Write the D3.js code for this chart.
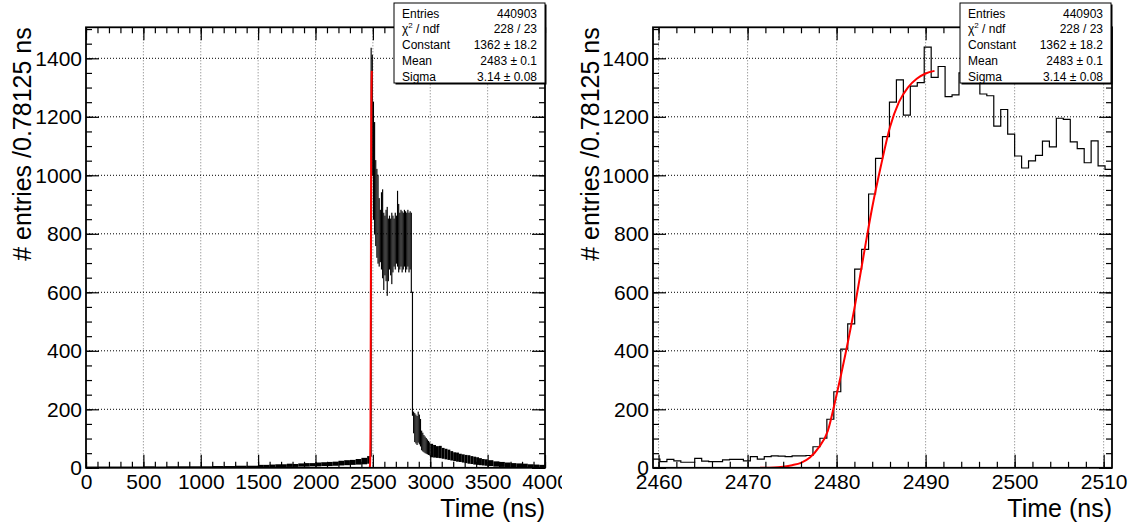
<!DOCTYPE html>
<html><head><meta charset="utf-8">
<script src="https://cdn.jsdelivr.net/npm/d3@7"></script>
<style>
body{margin:0;background:#fff}
svg{display:block}
text{font-family:"Liberation Sans",Arial,Helvetica,sans-serif}
</style>
</head><body>
<svg id="c" width="1136" height="529"></svg>
<script>
// ---------------- data ----------------
const binWidth = 0.78125;
const zoomStart = 2459.375;              // first bin low edge of the zoomed histogram
const zoomCounts = [
  30, 21, 29, 24, 19, 19, 32, 23, 21, 21, 27, 29, 29, 24, 38, 30, 38, 41, 40, 38, 41, 41, 42,
  72, 101, 166, 260, 406, 492, 679, 747, 936, 1058, 1132, 1250, 1326, 1206, 1305, 1317, 1438,
  1335, 1372, 1269, 1275, 1350, 1330, 1320, 1278, 1272, 1168, 1225, 1141, 1066, 1025, 1049,
  1068, 1117, 1097, 1195, 1191, 1114, 1091, 1043, 1118, 1032, 1020
];
// fit curve (time in ns, entries)
const fitT = [2471.4, 2473, 2474, 2475, 2476, 2477, 2478, 2479, 2480, 2481, 2482, 2483, 2484, 2485, 2486, 2487, 2488, 2489, 2490, 2491];
const fitV = [0, 1, 4, 9, 17, 35, 70, 125, 250, 390, 545, 720, 890, 1035, 1165, 1250, 1300, 1330, 1348, 1357];

// full-range histogram: envelope (min / max entries) per time chunk
const leftEdges = [
  0,100,200,300,400,500,600,700,800,900,1000,1100,1200,1300,1400,
  1500,1550,1600,1650,1700,1750,1800,1850,1900,1950,2000,2050,2100,2150,2200,2250,2300,2350,2400,2450,
  2480,2490,2500,2510,2520,2530,
  2540,2550,2560,2570,2580,2590,2600,2610,2620,2630,2640,2650,2660,2670,2680,2690,2700,2710,2720,2730,
  2740,2750,2760,2770,2780,2790,2800,2810,2820,
  2830,2840,2850,
  2860,2870,2880,2890,2900,2910,2920,2930,2940,2950,2960,2970,2980,2990,
  3000,3025,3050,3075,3100,3125,3150,3175,3200,3225,3250,3275,3300,3325,3350,3375,3400,3425,3450,3475,
  3500,3550,3600,3650,3700,3750,3800,3850,3900,3950,
  4000
];
const leftLo = [
  0,0,0,0,0,0,0,0,0,0,0,0,0,0,0,
  2,3,3,4,4,5,5,6,6,7,7,8,8,9,10,11,12,13,14,16,
  40,1000,850,800,760,720,
  700,690,705,680,650,610,660,640,590,640,680,660,630,670,690,680,700,690,670,680,
  690,670,680,690,670,680,690,670,680,
  600,180,120,
  90,85,80,88,82,75,62,58,55,52,50,48,46,44,
  38,37,36,35,33,31,29,27,25,23,22,20,18,16,15,13,12,11,10,9,
  8,6,5,4,3,2,2,1,1,0
];
const leftHi = [
  2,2,2,2,2,3,2,3,3,3,3,4,4,5,5,
  8,8,9,10,10,12,11,13,14,14,16,17,18,19,22,24,25,28,32,38,
  1434,1410,1250,1180,1050,1020,
  1000,920,880,940,950,870,860,880,890,850,860,850,870,860,850,870,860,945,900,870,
  880,875,870,880,875,870,880,870,875,
  870,600,190,
  185,180,175,190,180,165,125,118,110,105,100,95,90,85,
  80,76,72,73,66,63,60,55,51,50,46,44,42,41,38,36,34,31,28,27,
  24,20,18,16,14,13,12,10,9,8
];

const yTicks = [0, 200, 400, 600, 800, 1000, 1200, 1400];
const leftXTicks = [0, 500, 1000, 1500, 2000, 2500, 3000, 3500, 4000];
const rightXTicks = [2460, 2470, 2480, 2490, 2500, 2510];
const xTitle = "Time (ns)";
const yTitle = "# entries /0.78125 ns";
const statLabels = ["Entries", "χ2 / ndf", "Constant", "Mean", "Sigma"];
const statValues = ["440903", "228 / 23", "1362 ± 18.2", "2483 ± 0.1", "3.14 ± 0.08"];

// ---------------- drawing ----------------
const svg = d3.select("#c");
const yTop = 27.3, yBot = 467.8;
const y = d3.scaleLinear().domain([0, 1506]).range([yBot, yTop]);
const yMinor = d3.range(0, 1506, 50);

const panels = [
  {x0: 86, x1: 545, domain: [0, 4000], majors: leftXTicks, minors: d3.range(0, 4001, 100),
   box: [394, 3, 545, 83], titleX: 31, id: "L", padX0: 0, padX1: 562},
  {x0: 653, x1: 1112, domain: [zoomStart, zoomStart + zoomCounts.length * binWidth], majors: rightXTicks,
   minors: d3.range(2460, 2511, 2), box: [960, 3, 1111, 83], titleX: 599, id: "R", padX0: 568, padX1: 1136}
];

const defs = svg.append("defs");

panels.forEach(p => {
  const x = d3.scaleLinear().domain(p.domain).range([p.x0, p.x1]);
  defs.append("clipPath").attr("id", "pad" + p.id)
    .append("rect").attr("x", p.padX0).attr("y", 0).attr("width", p.padX1 - p.padX0).attr("height", 529);
  const g = svg.append("g").attr("clip-path", `url(#pad${p.id})`);
  defs.append("clipPath").attr("id", "clip" + p.id)
    .append("rect").attr("x", p.x0).attr("y", yTop).attr("width", p.x1 - p.x0).attr("height", yBot - yTop);

  // grid
  const grid = g.append("g").attr("stroke", "#000").attr("stroke-width", 1).attr("stroke-dasharray", "1,2");
  p.majors.forEach(v => {
    const xx = x(v);
    if (xx > p.x0 + 1 && xx < p.x1 - 1)
      grid.append("line").attr("x1", xx).attr("x2", xx).attr("y1", yTop).attr("y2", yBot).attr("stroke", "#777");
  });
  yTicks.forEach(v => {
    if (v === 0) return;
    grid.append("line").attr("x1", p.x0).attr("x2", p.x1).attr("y1", y(v)).attr("y2", y(v));
  });

  const plot = g.append("g").attr("clip-path", `url(#clip${p.id})`);
  if (p.id === "L") {
    const n = leftLo.length;
    const idx = d3.range(n);
    plot.append("g").selectAll("rect").data(idx).join("rect")
      .attr("x", i => x(leftEdges[i]))
      .attr("width", i => Math.max(0.8, x(leftEdges[i + 1]) - x(leftEdges[i])))
      .attr("y", i => y(leftHi[i]) - 0.6)
      .attr("height", i => Math.max(1.2, y(leftLo[i]) - y(leftHi[i]) + 1.2))
      .attr("fill", "#000");
  } else {
    const pts = [];
    zoomCounts.forEach((v, i) => {
      const a = zoomStart + i * binWidth, b = a + binWidth;
      pts.push([x(a), y(v)], [x(b), y(v)]);
    });
    plot.append("path").attr("d", d3.line()(pts)).attr("fill", "none")
      .attr("stroke", "#000").attr("stroke-width", 1.2);
  }
  // fit curve
  const fitLine = d3.line().x((d, i) => x(fitT[i])).y((d, i) => y(fitV[i])).curve(d3.curveMonotoneX);
  plot.append("path").attr("d", fitLine(fitT)).attr("fill", "none")
    .attr("stroke", "#ff0000").attr("stroke-width", 2);

  // axes (ticks inward on all sides)
  const axFont = sel => sel.attr("font-family", "'Liberation Sans',Arial,sans-serif").attr("font-size", 21);
  const bottom = g.append("g").attr("transform", `translate(0,${yBot})`)
    .call(d3.axisBottom(x).tickValues(p.majors).tickSize(-13).tickPadding(6).tickFormat(d3.format("d")));
  bottom.call(axFont);
  g.append("g").attr("transform", `translate(0,${yBot})`)
    .call(d3.axisBottom(x).tickValues(p.minors).tickSize(-6).tickFormat(""));
  g.append("g").attr("transform", `translate(0,${yTop})`)
    .call(d3.axisTop(x).tickValues(p.majors).tickSize(-13).tickFormat(""));
  g.append("g").attr("transform", `translate(0,${yTop})`)
    .call(d3.axisTop(x).tickValues(p.minors).tickSize(-6).tickFormat(""));
  const left = g.append("g").attr("transform", `translate(${p.x0},0)`)
    .call(d3.axisLeft(y).tickValues(yTicks).tickSize(-13).tickPadding(4).tickFormat(d3.format("d")));
  left.call(axFont);
  g.append("g").attr("transform", `translate(${p.x0},0)`)
    .call(d3.axisLeft(y).tickValues(yMinor).tickSize(-6).tickFormat(""));
  g.append("g").attr("transform", `translate(${p.x1},0)`)
    .call(d3.axisRight(y).tickValues(yTicks).tickSize(-13).tickFormat(""));
  g.append("g").attr("transform", `translate(${p.x1},0)`)
    .call(d3.axisRight(y).tickValues(yMinor).tickSize(-6).tickFormat(""));
  g.selectAll(".domain").remove();
  g.selectAll(".tick line").attr("stroke", "#000").attr("stroke-width", 1.2);
  g.selectAll(".tick text").attr("fill", "#000");

  // frame
  g.append("rect").attr("x", p.x0).attr("y", yTop).attr("width", p.x1 - p.x0).attr("height", yBot - yTop)
    .attr("fill", "none").attr("stroke", "#000").attr("stroke-width", 1.8);

  // titles
  g.append("text").attr("x", p.x1).attr("y", 517).attr("text-anchor", "end")
    .attr("font-size", 25).text(xTitle);
  g.append("text").attr("transform", `translate(${p.titleX},${yTop}) rotate(-90)`)
    .attr("text-anchor", "end").attr("font-size", 25).text(yTitle);

  // stats box
  const [bx0, by0, bx1, by1] = p.box;
  g.append("rect").attr("x", bx0 + 1.5).attr("y", by0 + 1.5).attr("width", bx1 - bx0).attr("height", by1 - by0)
    .attr("fill", "#000");
  g.append("rect").attr("x", bx0).attr("y", by0).attr("width", bx1 - bx0).attr("height", by1 - by0)
    .attr("fill", "#fff").attr("stroke", "#000").attr("stroke-width", 1);
  statLabels.forEach((lab, i) => {
    const ty = by0 + 14.5 + i * 15.9;
    const t = g.append("text").attr("x", bx0 + 8).attr("y", ty).attr("font-size", 12);
    if (lab.startsWith("χ2")) {
      t.append("tspan").text("χ");
      t.append("tspan").attr("dy", -5).attr("font-size", 8).text("2");
      t.append("tspan").attr("dy", 5).text(" / ndf");
    } else t.text(lab);
    g.append("text").attr("x", bx1 - 8).attr("y", ty).attr("font-size", 12)
      .attr("text-anchor", "end").text(statValues[i]);
  });
});
</script>
</body></html>
